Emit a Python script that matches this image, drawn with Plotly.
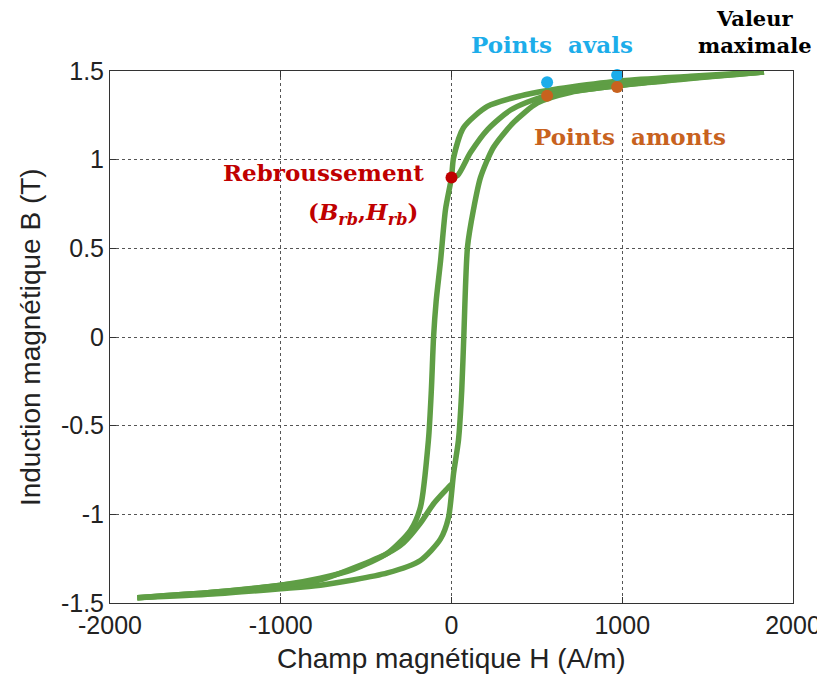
import plotly.graph_objects as go

# ---- data ----
# descending major branch (from maximum to minimum, passing through the reversal point)
H_desc = [1830, 1400, 1000, 700, 563, 405, 210, 70, 12, 0, -35, -64, -90, -105, -118, -135,
          -182, -240, -375, -575, -768, -1000, -1400, -1840]
B_desc = [1.495, 1.47, 1.445, 1.41, 1.39, 1.36, 1.30, 1.18, 1.01, 0.90, 0.72, 0.43, 0.20, 0.0, -0.30, -0.58,
          -0.96, -1.09, -1.22, -1.31, -1.36, -1.40, -1.44, -1.47]

# minor branch leaving the reversal point upward
H_minor_up = [0, 35, 111, 211, 346, 551, 1000, 1830]
B_minor_up = [0.90, 0.91, 1.04, 1.17, 1.28, 1.36, 1.42, 1.495]

# ascending major branch (from minimum to maximum)
H_asc = [-1840, -1400, -1000, -768, -375, -182, -65, -18, 12, 41, 60, 72, 94, 129, 170, 246,
         364, 504, 700, 1000, 1400, 1830]
B_asc = [-1.47, -1.45, -1.42, -1.40, -1.33, -1.26, -1.14, -1.02, -0.77, -0.58, -0.30, 0.0, 0.51, 0.72, 0.90, 1.07,
         1.21, 1.32, 1.38, 1.42, 1.46, 1.495]

# lower minor branch (from minimum up to the lower cusp)
H_minor_low = [-1840, -1400, -1000, -768, -375, -280, -182, -105, -40, 0]
B_minor_low = [-1.47, -1.44, -1.40, -1.37, -1.22, -1.16, -1.05, -0.94, -0.87, -0.83]

# characteristic points
H_avals = [560, 970]
B_avals = [1.437, 1.477]
H_amonts = [560, 970]
B_amonts = [1.36, 1.41]
H_rb = [0]
B_rb = [0.90]
H_max = [1830]
B_max = [1.505]

x_ticks = [-2000, -1000, 0, 1000, 2000]
x_ticktext = ["-2000", "-1000", "0", "1000", "2000"]
y_ticks = [-1.5, -1, -0.5, 0, 0.5, 1, 1.5]
y_ticktext = ["-1.5", "-1", "-0.5", "0", "0.5", "1", "1.5"]

GREEN = "#5f9e45"
RED = "#c00000"
BLUE = "#1cadea"
ORANGE = "#c8621e"

fig = go.Figure()
for hx, by in [(H_desc, B_desc), (H_minor_up, B_minor_up), (H_asc, B_asc), (H_minor_low, B_minor_low)]:
    fig.add_trace(go.Scatter(x=hx, y=by, mode="lines",
                             line=dict(color=GREEN, width=5.5, shape="spline", smoothing=0.7),
                             showlegend=False, hoverinfo="skip"))

for hx, by, col in [(H_avals, B_avals, BLUE), (H_amonts, B_amonts, ORANGE),
                    (H_rb, B_rb, RED), (H_max, B_max, "black")]:
    fig.add_trace(go.Scatter(x=hx, y=by, mode="markers",
                             marker=dict(color=col, size=12),
                             showlegend=False, cliponaxis=False))

serif = "DejaVu Serif"
# text labels in paper coordinates (fraction of plot area)
ann = [
    dict(x=0.945, y=1.073, text="<b>Valeur<br>maximale</b>", color="black", size=21),
    dict(x=0.647, y=1.049, text="<b>Points  avals</b>", color=BLUE, size=23),
    dict(x=0.762, y=0.876, text="<b>Points  amonts</b>", color=ORANGE, size=23),
    dict(x=0.312, y=0.810, text="<b>Rebroussement</b>", color=RED, size=23),
    dict(x=0.370, y=0.733, text="<b>(<i>B</i><sub><i>rb</i></sub>,<i>H</i><sub><i>rb</i></sub>)</b>", color=RED, size=23),
]
for a in ann:
    fig.add_annotation(x=a["x"], y=a["y"], xref="paper", yref="paper", text=a["text"], showarrow=False,
                       font=dict(family=serif, size=a["size"], color=a["color"]),
                       xanchor="center", yanchor="middle")

fig.add_annotation(x=-0.117, y=0.5, xref="paper", yref="paper", text="Induction magnétique B (T)",
                   textangle=-90, showarrow=False, xanchor="center", yanchor="middle",
                   font=dict(family="Liberation Sans, Arial", size=28, color="#222"))
fig.add_annotation(x=0.5, y=-0.104, xref="paper", yref="paper", text="Champ magnétique H (A/m)",
                   showarrow=False, xanchor="center", yanchor="middle",
                   font=dict(family="Liberation Sans, Arial", size=28, color="#222"))

axis_common = dict(showline=True, linecolor="#333", linewidth=1, mirror="ticks",
                   ticks="inside", ticklen=6, tickcolor="#333", showgrid=True,
                   gridcolor="#555", griddash="dot", gridwidth=1, zeroline=False,
                   automargin=False,
                   tickfont=dict(family="Liberation Sans, Arial", size=25, color="#222"))

fig.update_xaxes(range=[-2000, 2000], tickvals=x_ticks, ticktext=x_ticktext, **axis_common)
fig.update_yaxes(range=[-1.5, 1.5], tickvals=y_ticks, ticktext=y_ticktext, **axis_common)

# page body has an 8px margin, so the figure is made 8px smaller and shifted margins
fig.update_layout(width=817, height=670, margin=dict(l=102, r=32, t=63, b=75),
                  plot_bgcolor="white", paper_bgcolor="white")

fig.write_html("out.html")
